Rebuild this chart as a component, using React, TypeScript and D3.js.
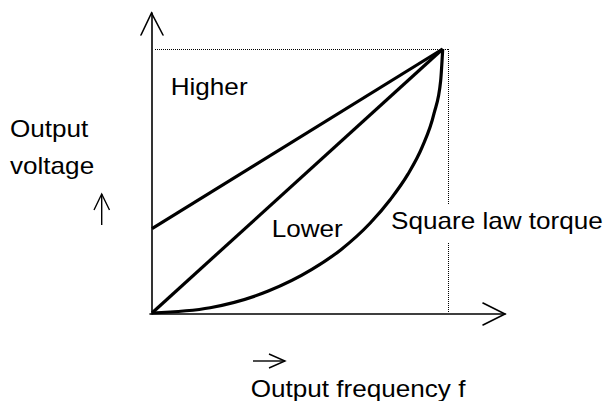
import React from "react";
import * as d3 from "d3";

// Data (output frequency f in %, output voltage in %)
const higherF = [0, 100];
const higherV = [32, 100];
const lowerF = [0, 100];
const lowerV = [0, 100];
const squareF = [0, 20, 40, 55, 65, 75, 82, 88, 93, 97, 99.3, 100];
const squareV = [0, 2, 8.3, 16.5, 24, 34, 43, 52.5, 63, 75.5, 88, 100];
const refF = 102; // dotted reference lines
const refV = 100;

const W = 608;
const H = 401;

const x = d3.scaleLinear().domain([0, 100]).range([152, 442.7]);
const y = d3.scaleLinear().domain([0, 100]).range([313, 49]);

const FONT = "'Liberation Sans', Arial, Helvetica, sans-serif";
const SX = 1.135;

function Label({ x: lx, y: ly, text }: { x: number; y: number; text: string }) {
  return (
    <text
      transform={`translate(${lx},${ly}) scale(${SX},1)`}
      fontFamily={FONT}
      fontSize={23}
      fill="#000"
    >
      {text}
    </text>
  );
}

export default function App() {
  const line = d3
    .line<[number, number]>()
    .x((d) => x(d[0]))
    .y((d) => y(d[1]));
  const curve = d3
    .line<[number, number]>()
    .x((d) => x(d[0]))
    .y((d) => y(d[1]))
    .curve(d3.curveMonotoneX);

  const higher = higherF.map((f, i) => [f, higherV[i]] as [number, number]);
  const lower = lowerF.map((f, i) => [f, lowerV[i]] as [number, number]);
  const square = squareF.map((f, i) => [f, squareV[i]] as [number, number]);

  const x0 = x(0);
  const y0 = y(0);
  const xr = x(refF);
  const yr = y(refV);

  return (
    <svg
      width={W}
      height={H}
      style={{ position: "fixed", left: 0, top: 0, background: "#fff" }}
    >
      {/* dotted reference lines */}
      <g stroke="#000" strokeWidth={1} strokeDasharray="1,1" fill="none">
        <line x1={x0 + 3} y1={yr + 0.5} x2={xr} y2={yr + 0.5} />
        <line x1={xr} y1={yr} x2={xr} y2={205} />
        <line x1={xr} y1={243} x2={xr} y2={y0} />
      </g>

      {/* axes */}
      <g stroke="#000" strokeWidth={1.6} fill="none" strokeLinecap="round">
        <line x1={x0} y1={y0 + 1} x2={x0} y2={13} />
        <polyline points={`141,35 ${x0 - 0.5},13 163,35`} />
        <line x1={x0 - 2} y1={y0 + 1} x2={505} y2={y0 + 1} />
        <polyline points={`483,303 505,${y0 + 1} 483,325`} />
      </g>

      {/* curves */}
      <g stroke="#000" strokeWidth={3.2} fill="none" strokeLinejoin="round">
        <path d={line(higher) || ""} />
        <path d={line(lower) || ""} />
        <path d={curve(square) || ""} />
      </g>

      {/* small direction arrows */}
      <g stroke="#000" strokeWidth={1.4} fill="none">
        <line x1={101.7} y1={225} x2={101.7} y2={194} />
        <polyline points="94,210 101.7,194 109.5,210" />
        <line x1={253} y1={361} x2={285} y2={361} />
        <polyline points="269,354 285,361 269,368" />
      </g>

      <Label x={10} y={137} text="Output" />
      <Label x={10} y={174} text="voltage" />
      <Label x={170.7} y={95} text="Higher" />
      <Label x={271.7} y={236.7} text="Lower" />
      <Label x={391} y={229.3} text="Square law torque" />
      <Label x={250.7} y={396.7} text="Output frequency f" />
    </svg>
  );
}
